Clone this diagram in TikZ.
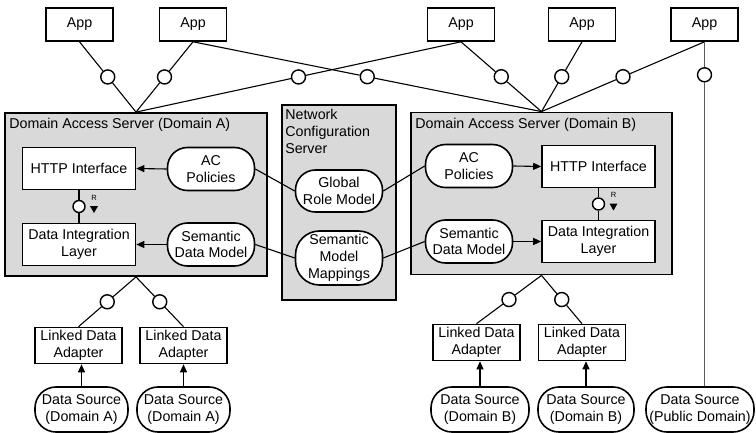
\documentclass[tikz,border=0pt]{standalone}
\usepackage{fontspec}
\setmainfont{Liberation Sans}
\usetikzlibrary{arrows.meta, shapes.geometric, positioning, calc}

\definecolor{panel}{gray}{0.85}

\begin{document}
\begin{tikzpicture}[
  x=1pt, y=-1pt,
  >={Triangle[length=8pt,width=7pt]},
  font=\fontsize{14.25}{16.8}\selectfont,
  server/.style={
    draw, line width=1.8pt, fill=panel, inner sep=0pt
  },
  comp/.style={
    draw, line width=1.6pt, fill=white, inner sep=1pt,
    minimum width=113pt, minimum height=42pt, align=center
  },
  appbox/.style={comp, minimum width=67pt, minimum height=33pt},
  adapter/.style={comp, minimum width=87pt, minimum height=36pt},
  model/.style={
    draw, line width=1.6pt, fill=white, rounded corners=20pt,
    inner sep=0pt, minimum width=87pt, minimum height=43pt, align=center
  },
  iface/.style={
    circle, draw, line width=1.4pt, fill=white,
    minimum size=14pt, inner sep=0pt
  },
  wire/.style={line width=1.1pt},
  feed/.style={->, line width=1.1pt},
  title/.style={inner sep=0pt, align=left},
  rmark/.style={font=\fontsize{7.5}{8}\selectfont, inner sep=0pt},
  rtip/.style={
    regular polygon, regular polygon sides=3, shape border rotate=180,
    fill=black, minimum size=9pt, inner sep=0pt
  }
]
\useasboundingbox (0,0) rectangle (756,433);

% servers
\node[server, minimum width=262pt, minimum height=163pt] (dasA) at (136,194.5) {};
\node[server, minimum width=261pt, minimum height=162pt] (dasB) at (541.5,193.5) {};
\node[server, minimum width=114pt, minimum height=195pt] (ncs) at (339,202.5) {};

\node[title, below right=6pt and 5pt of dasA.north west] {Domain Access Server (Domain A)};
\node[title, below right=6pt and 5pt of dasB.north west] {Domain Access Server (Domain B)};
\node[title, below right=5pt and 4pt of ncs.north west] {Network\\Configuration\\Server};

% applications
\node[appbox] (app1) at (79.5,24.5) {App};
\node[appbox] (app2) at (193,24.5)  {App};
\node[appbox] (app3) at (461,24.5)  {App};
\node[appbox] (app4) at (582,24.5)  {App};
\node[appbox] (app5) at (704.5,24.5) {App};

% domain A internals
\node[comp]  (httpA) at (79,168.5)  {HTTP Interface};
\node[comp]  (dilA)  at (79,244.5)  {Data Integration\\Layer};
\node[model] (acA)   at (211,169)   {AC\\Policies};
\node[model] (sdmA)  at (211,244.5) {Semantic\\Data Model};

% network configuration server
\node[model, minimum height=42pt] (grm) at (339,191) {Global\\Role Model};
\node[model, minimum height=54pt, rounded corners=24pt] (smm) at (339,258) {Semantic\\Model\\Mappings};

% domain B internals
\node[model] (acB)   at (469,166)     {AC\\Policies};
\node[model] (sdmB)  at (469,241.5)   {Semantic\\Data Model};
\node[comp]  (httpB) at (598.5,166.5) {HTTP Interface};
\node[comp]  (dilB)  at (598.5,241.5) {Data Integration\\Layer};

% adapters and sources
\node[adapter] (ldaA1) at (78.5,345.5)  {Linked Data\\Adapter};
\node[adapter] (ldaA2) at (183.5,345.5) {Linked Data\\Adapter};
\node[adapter] (ldaB1) at (476.5,342.5) {Linked Data\\Adapter};
\node[adapter] (ldaB2) at (582,342.5)   {Linked Data\\Adapter};

\node[model, minimum width=93pt, minimum height=45pt, rounded corners=21pt] (dsA1) at (81.5,409.5)  {Data Source\\(Domain A)};
\node[model, minimum width=93pt, minimum height=45pt, rounded corners=21pt] (dsA2) at (183.5,409.5) {Data Source\\(Domain A)};
\node[model, minimum width=98pt, minimum height=45pt, rounded corners=21pt] (dsB1) at (480,409.5)   {Data Source\\(Domain B)};
\node[model, minimum width=96pt, minimum height=45pt, rounded corners=21pt] (dsB2) at (586,409.5)   {Data Source\\(Domain B)};
\node[model, minimum width=108pt, minimum height=45pt, rounded corners=21pt] (dsP) at (700,409.5)  {Data Source\\(Public Domain)};

% interfaces between apps and servers
\node[iface] (iA1) at ($(app1.south)!0.5!(dasA.north)$) {};
\node[iface] (iA2) at ($(app2.south)!0.5!(dasA.north)$) {};
\node[iface] (iA3) at ($(app3.south)!0.5!(dasA.north)$) {};
\node[iface] (iB2) at ($(app2.south)!0.5!(dasB.north)$) {};
\node[iface] (iB3) at ($(app3.south)!0.5!(dasB.north)$) {};
\node[iface] (iB4) at ($(app4.south)!0.5!(dasB.north)$) {};
\node[iface] (iB5) at ($(app5.south)!0.5!(dasB.north)$) {};
\node[iface] (iP)  at ($(app5.south)+(0,33)$) {};

\draw[wire] (app1.south) -- (iA1) -- (dasA.north);
\draw[wire] (app2.south) -- (iA2) -- (dasA.north);
\draw[wire] (app3.south) -- (iA3) -- (dasA.north);
\draw[wire] (app2.south) -- (iB2) -- (dasB.north);
\draw[wire] (app3.south) -- (iB3) -- (dasB.north);
\draw[wire] (app4.south) -- (iB4) -- (dasB.north);
\draw[wire] (app5.south) -- (iB5) -- (dasB.north);
\draw[wire, black!65] (app5.south) -- (iP) -- (app5.south |- dsP.north);

% internal links
\draw[feed] (acA.west) -- (httpA.east);
\draw[feed] (sdmA.west) -- (dilA.east);
\draw[feed] (acB.east) -- (httpB.west);
\draw[feed] (sdmB.east) -- (dilB.west);

\draw[wire] (acA.east) -- (grm.west);
\draw[wire] (sdmA.east) -- (smm.west);
\draw[wire] (grm.east) -- (acB.west);
\draw[wire] (smm.east) -- (sdmB.west);

% required interface between HTTP and integration layer
\node[iface, minimum size=12pt] (rA) at ($(httpA.south)!0.5!(dilA.north)$) {};
\node[iface, minimum size=12pt] (rB) at ($(httpB.south)!0.5!(dilB.north)$) {};
\draw[wire] (httpA.south) -- (rA) -- (dilA.north);
\draw[wire] (httpB.south) -- (rB) -- (dilB.north);
\node[rmark] at ($(rA)+(15,-9)$) {R};
\node[rtip]  at ($(rA)+(15,2)$) {};
\node[rmark] at ($(rB)+(15,-9)$) {R};
\node[rtip]  at ($(rB)+(15,2)$) {};

% adapters to servers
\node[iface] (iLA1) at ($(dasA.south)!0.5!(ldaA1.north)$) {};
\node[iface] (iLA2) at ($(dasA.south)!0.5!(ldaA2.north)$) {};
\node[iface] (iLB1) at ($(dasB.south)!0.5!(ldaB1.north)$) {};
\node[iface] (iLB2) at ($(dasB.south)!0.5!(ldaB2.north)$) {};
\draw[wire] (dasA.south) -- (iLA1) -- (ldaA1.north);
\draw[wire] (dasA.south) -- (iLA2) -- (ldaA2.north);
\draw[wire] (dasB.south) -- (iLB1) -- (ldaB1.north);
\draw[wire] (dasB.south) -- (iLB2) -- (ldaB2.north);

\draw[feed] (dsA1.north) -- (dsA1.north |- ldaA1.south);
\draw[feed] (dsA2.north) -- (dsA2.north |- ldaA2.south);
\draw[feed] (dsB1.north) -- (dsB1.north |- ldaB1.south);
\draw[feed] (dsB2.north) -- (dsB2.north |- ldaB2.south);

\end{tikzpicture}
\end{document}
